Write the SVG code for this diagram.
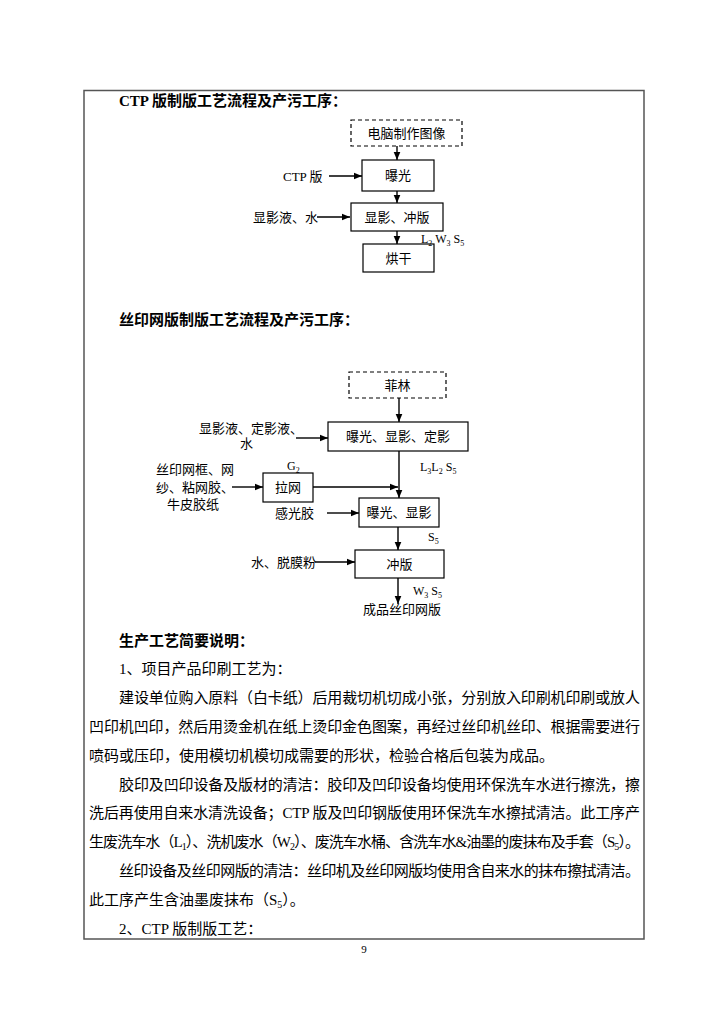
<svg xmlns="http://www.w3.org/2000/svg" width="728" height="1030" viewBox="0 0 728 1030">
<style>
.t{font-family:"Liberation Serif","Noto Sans CJK SC",serif;fill:#000}
.f{font-size:13px}
.b{font-size:15px}
.h{font-size:15px;font-weight:bold}
.s{font-size:12px}
.box{fill:#fff;stroke:#000;stroke-width:1.2}
.dash{fill:#fff;stroke:#000;stroke-width:1.2;stroke-dasharray:4 3}
.ln{stroke:#000;stroke-width:1.4;fill:none}
</style>
<defs>
<marker id="ah" markerUnits="userSpaceOnUse" markerWidth="9" markerHeight="8" refX="8.5" refY="4" orient="auto">
<path d="M0,0.5 L8.5,4 L0,7.5 Z" fill="#000"/>
</marker>
</defs>
<rect width="728" height="1030" fill="#fff"/>
<rect x="84" y="90.5" width="560" height="848.5" fill="none" stroke="#555" stroke-width="1.5"/>

<text class="t h" x="119" y="106">CTP 版制版工艺流程及产污工序：</text>

<g id="ctp-computer"><rect class="dash" x="351" y="120" width="111" height="26"/><text class="t f" x="406.5" y="137.5" text-anchor="middle">电脑制作图像</text></g>
<g id="ctp-expose"><rect class="box" x="362" y="160" width="72" height="31"/><text class="t f" x="398" y="180" text-anchor="middle">曝光</text></g>
<g id="ctp-plate"><text class="t f" x="283" y="180.5">CTP 版</text></g>
<g id="ctp-develop"><rect class="box" x="351" y="203" width="92" height="28"/><text class="t f" x="397" y="221.5" text-anchor="middle">显影、冲版</text></g>
<g id="ctp-liquid"><text class="t f" x="318" y="221.5" text-anchor="end">显影液、水</text></g>
<g id="ctp-dry"><rect class="box" x="363" y="244" width="71" height="28"/><text class="t f" x="398.5" y="263" text-anchor="middle">烘干</text></g>
<g id="ctp-emit"><text class="t s" x="421" y="243">L<tspan font-size="8" dy="2.5">2</tspan><tspan dy="-2.5"> W</tspan><tspan font-size="8" dy="2.5">3</tspan><tspan dy="-2.5"> S</tspan><tspan font-size="8" dy="2.5">5</tspan></text></g>

<text class="t h" x="119" y="325">丝印网版制版工艺流程及产污工序：</text>

<g id="sp-film"><rect class="dash" x="349" y="372" width="97" height="26"/><text class="t f" x="397.5" y="390" text-anchor="middle">菲林</text></g>
<g id="sp-expose1"><rect class="box" x="328" y="422" width="140" height="29"/><text class="t f" x="398" y="441" text-anchor="middle">曝光、显影、定影</text></g>
<g id="sp-liquid"><text class="t f" x="199" y="433">显影液、定影液、</text><text class="t f" x="240" y="448">水</text></g>
<g id="sp-emit1"><text class="t s" x="420" y="471">L<tspan font-size="8" dy="2.5">3</tspan><tspan dy="-2.5">L</tspan><tspan font-size="8" dy="2.5">2</tspan><tspan dy="-2.5"> S</tspan><tspan font-size="8" dy="2.5">5</tspan></text></g>
<g id="sp-stretch"><rect class="box" x="263" y="473" width="50" height="29"/><text class="t f" x="288" y="492" text-anchor="middle">拉网</text></g>
<g id="sp-g2"><text class="t s" x="287" y="470">G<tspan font-size="8" dy="2.5">2</tspan></text></g>
<g id="sp-materials"><text class="t f" x="195" y="474" text-anchor="middle">丝印网框、网</text><text class="t f" x="195" y="492" text-anchor="middle">纱、粘网胶、</text><text class="t f" x="193" y="509" text-anchor="middle">牛皮胶纸</text></g>
<g id="sp-expose2"><rect class="box" x="359" y="498" width="80" height="29"/><text class="t f" x="399" y="517" text-anchor="middle">曝光、显影</text></g>
<g id="sp-emulsion"><text class="t f" x="275" y="517.5">感光胶</text></g>
<g id="sp-emit2"><text class="t s" x="428" y="541">S<tspan font-size="8" dy="2.5">5</tspan></text></g>
<g id="sp-wash"><rect class="box" x="355" y="550" width="89" height="28"/><text class="t f" x="399.5" y="568.5" text-anchor="middle">冲版</text></g>
<g id="sp-water"><text class="t f" x="316" y="567" text-anchor="end">水、脱膜粉</text></g>
<g id="sp-emit3"><text class="t s" x="413" y="595">W<tspan font-size="8" dy="2.5">3</tspan><tspan dy="-2.5"> S</tspan><tspan font-size="8" dy="2.5">5</tspan></text></g>
<g id="sp-product"><text class="t f" x="363" y="614">成品丝印网版</text></g>

<g id="connectors">
<line class="ln" x1="397" y1="146" x2="397" y2="160" marker-end="url(#ah)"/>
<line class="ln" x1="329" y1="176" x2="362" y2="176" marker-end="url(#ah)"/>
<line class="ln" x1="397" y1="191" x2="397" y2="203" marker-end="url(#ah)"/>
<line class="ln" x1="317" y1="217" x2="350" y2="217" marker-end="url(#ah)"/>
<line class="ln" x1="397" y1="231" x2="397" y2="244" marker-end="url(#ah)"/>

<line class="ln" x1="399" y1="398" x2="399" y2="422" marker-end="url(#ah)"/>
<line class="ln" x1="296" y1="438" x2="328" y2="438" marker-end="url(#ah)"/>
<line class="ln" x1="399" y1="451" x2="399" y2="498" marker-end="url(#ah)"/>
<line class="ln" x1="232" y1="487" x2="263" y2="487" marker-end="url(#ah)"/>
<line class="ln" x1="313" y1="487" x2="398" y2="487" marker-end="url(#ah)"/>
<line class="ln" x1="327" y1="513" x2="359" y2="513" marker-end="url(#ah)"/>
<line class="ln" x1="398" y1="527" x2="398" y2="550" marker-end="url(#ah)"/>
<line class="ln" x1="315" y1="562" x2="355" y2="562" marker-end="url(#ah)"/>
<line class="ln" x1="398" y1="578" x2="398" y2="604" marker-end="url(#ah)"/>
</g>

<g id="body">
<text class="t h" x="119" y="645.5">生产工艺简要说明：</text>
<text class="t b" x="119" y="674.3">1、项目产品印刷工艺为：</text>
<text class="t b" x="119" y="703.1" textLength="521" lengthAdjust="spacing">建设单位购入原料（白卡纸）后用裁切机切成小张，分别放入印刷机印刷或放人</text>
<text class="t b" x="89" y="731.9" textLength="551" lengthAdjust="spacing">凹印机凹印，然后用烫金机在纸上烫印金色图案，再经过丝印机丝印、根据需要进行</text>
<text class="t b" x="89" y="760.7">喷码或压印，使用模切机模切成需要的形状，检验合格后包装为成品。</text>
<text class="t b" x="119" y="789.5" textLength="521" lengthAdjust="spacing">胶印及凹印设备及版材的清洁：胶印及凹印设备均使用环保洗车水进行擦洗，擦</text>
<text class="t b" x="89" y="818.3" textLength="551" lengthAdjust="spacing">洗后再使用自来水清洗设备；CTP 版及凹印钢版使用环保洗车水擦拭清洁。此工序产</text>
<text class="t b" x="89" y="847.1" textLength="551" lengthAdjust="spacing">生废洗车水（L<tspan font-size="10" dy="3">1</tspan><tspan dy="-3">）、洗机废水（W</tspan><tspan font-size="10" dy="3">2</tspan><tspan dy="-3">）、废洗车水桶、含洗车水&amp;油墨的废抹布及手套（S</tspan><tspan font-size="10" dy="3">5</tspan><tspan dy="-3">）。</tspan></text>
<text class="t b" x="119" y="875.9" textLength="521" lengthAdjust="spacing">丝印设备及丝印网版的清洁：丝印机及丝印网版均使用含自来水的抹布擦拭清洁。</text>
<text class="t b" x="89" y="904.7">此工序产生含油墨废抹布（S<tspan font-size="10" dy="3">5</tspan><tspan dy="-3">）。</tspan></text>
<text class="t b" x="119" y="933.5">2、CTP 版制版工艺：</text>
</g>
<text class="t" font-size="11" x="364" y="953" text-anchor="middle">9</text>
</svg>
